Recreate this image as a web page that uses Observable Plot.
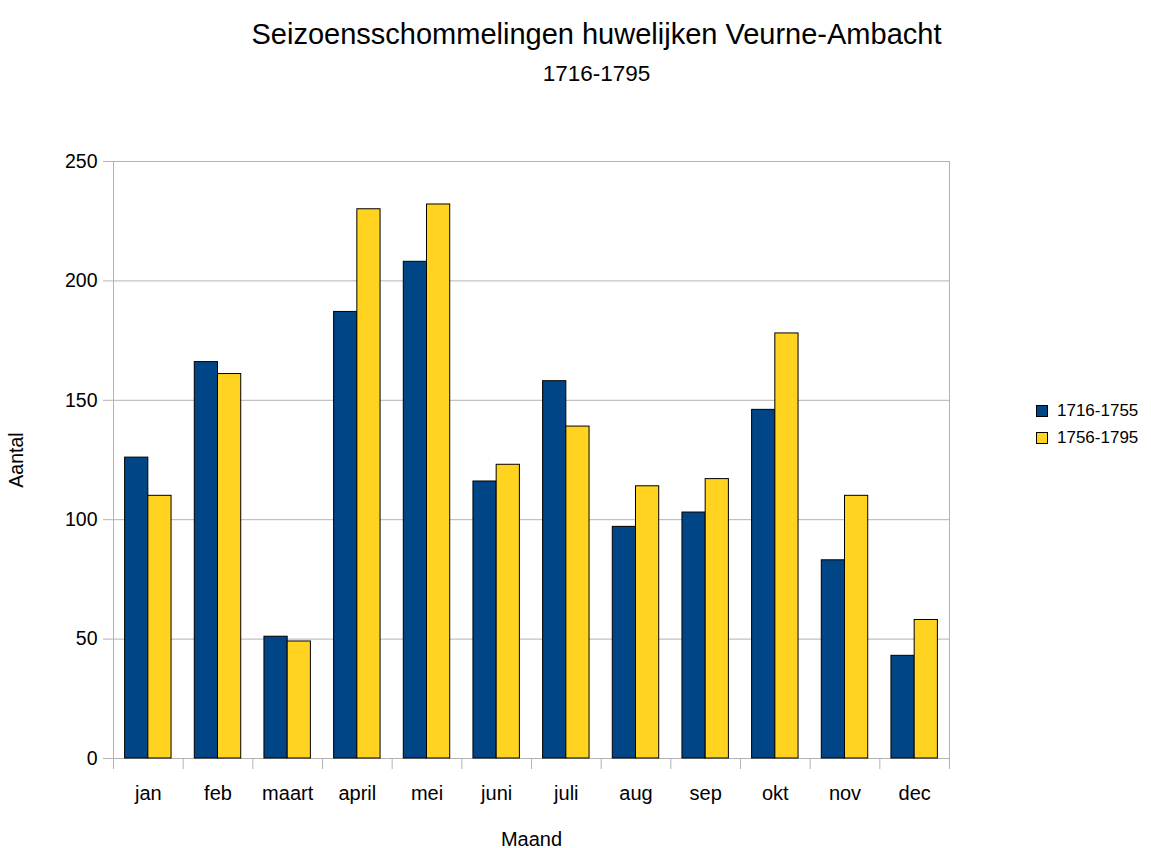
<!DOCTYPE html>
<html><head><meta charset="utf-8">
<script src="https://cdn.jsdelivr.net/npm/d3@7"></script>
<script src="https://cdn.jsdelivr.net/npm/@observablehq/plot@0.6"></script>
<style>
body{margin:0;background:#fff;font-family:"Liberation Sans",Arial,sans-serif;}
#wrap{position:relative;width:1151px;height:848px;overflow:hidden;background:#fff}
.t{position:absolute;left:21px;width:1151px;text-align:center;line-height:1;color:#000;white-space:nowrap}
#title{top:20px;font-size:29px}
#subtitle{top:63px;font-size:22.5px}
#chart{position:absolute;left:0;top:100px}
#legend{position:absolute;left:1036px;top:397px;font-size:17px;line-height:1}
.li{display:flex;align-items:center;height:27px}
.sw{width:10px;height:10px;border:1px solid #000;margin-right:9px}
</style></head><body>
<div id="wrap">
<div id="title" class="t">Seizoensschommelingen huwelijken Veurne-Ambacht</div>
<div id="subtitle" class="t">1716-1795</div>
<div id="chart"></div>
<div id="legend"></div>
</div>
<script>
const months = ["jan","feb","maart","april","mei","juni","juli","aug","sep","okt","nov","dec"];
const series = ["1716-1755","1756-1795"];
const values1716 = [126,166,51,187,208,116,158,97,103,146,83,43];
const values1756 = [110,161,49,230,232,123,139,114,117,178,110,58];
const colors = ["#004586","#ffd320"];
const yTicks = [0,50,100,150,200,250];

// each month occupies one unit on x; the two bars each take a third of it, centred
const barFrac = 1/3;
const data = months.flatMap((m,i)=>[
  {month:m, i, s:0, period:series[0], value:values1716[i]},
  {month:m, i, s:1, period:series[1], value:values1756[i]}
]);
const gray = "#b3b3b3";
const centers = months.map((m,i)=>i+0.5);
const bounds = d3.range(months.length+1);

const chart = Plot.plot({
  width: 1151, height: 748,
  marginTop: 61, marginBottom: 90, marginLeft: 113, marginRight: 202,
  style: {fontFamily: '"Liberation Sans", Arial, sans-serif', fontSize: "19px", color: "#000", background: "transparent"},
  x: {type: "linear", domain: [0, months.length]},
  y: {domain: [0,250]},
  color: {domain: series, range: colors},
  marks: [
    Plot.gridY(yTicks, {stroke: gray, strokeOpacity: 1}),
    Plot.frame({stroke: gray}),
    Plot.rectY(data, {
      x1: d => d.i + 0.5 - barFrac + d.s*barFrac,
      x2: d => d.i + 0.5 + d.s*barFrac,
      y: "value", fill: "period", stroke: "#000", strokeWidth: 1, inset: 0
    }),
    Plot.axisY(yTicks, {tickSize: 10, tickPadding: 6, stroke: gray, fill: "#000", fontSize: 19.5, label: "Aantal", labelAnchor: "center", labelArrow: "none", labelOffset: 104}),
    Plot.axisX(bounds, {tickSize: 11, stroke: gray, tickFormat: () => "", label: null}),
    Plot.axisX(centers, {tickSize: 0, tickPadding: 27, fill: "#000", fontSize: 20, tickFormat: d => months[Math.floor(d)], label: "Maand", labelAnchor: "center", labelArrow: "none"})
  ]
});
document.getElementById("chart").appendChild(chart);

const legend = document.getElementById("legend");
series.forEach((s,i)=>{
  const row = document.createElement("div"); row.className = "li";
  const sw = document.createElement("div"); sw.className = "sw"; sw.style.background = colors[i];
  const tx = document.createElement("span"); tx.textContent = s;
  row.appendChild(sw); row.appendChild(tx); legend.appendChild(row);
});
</script>
</body></html>
